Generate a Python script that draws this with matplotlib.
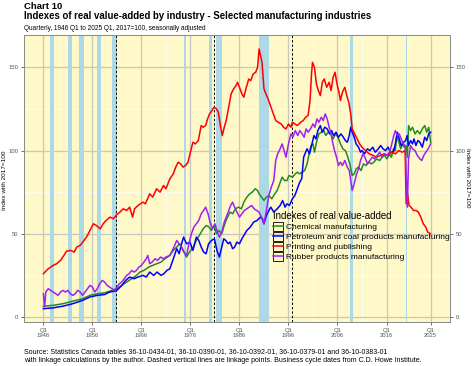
import matplotlib
matplotlib.use("Agg")
from matplotlib import pyplot as plt
from matplotlib.legend_handler import HandlerLine2D
from matplotlib.lines import Line2D
from matplotlib.patches import Rectangle
import numpy as np

plt.rcParams['font.family'] = ['Liberation Sans', 'DejaVu Sans']

# ---- data (fractional years) ----
red_t = [1946.0, 1947.0, 1948.0, 1948.7, 1949.5, 1950.2, 1950.7, 1951.5, 1952.3, 1952.8,
         1953.5, 1954.3, 1955.0, 1955.5, 1956.2, 1956.8, 1957.6, 1958.2, 1958.8, 1959.6,
         1960.3, 1961.0, 1961.6, 1962.3, 1963.0, 1963.6, 1964.2, 1964.6, 1965.3, 1966.3,
         1966.8, 1967.7, 1968.3, 1969.1, 1969.8, 1970.5, 1971.0, 1971.8, 1972.5, 1973.0,
         1973.5, 1974.0, 1974.5, 1975.0, 1975.5, 1976.0, 1976.5, 1977.0, 1977.6, 1978.2,
         1978.6, 1979.1, 1979.5, 1979.9, 1980.4, 1980.8, 1981.3, 1981.7, 1982.1, 1982.5,
         1982.9, 1983.3, 1983.8, 1984.3, 1984.8, 1985.3, 1985.6, 1986.0, 1986.5, 1986.9,
         1987.4, 1987.9, 1988.3, 1988.8, 1989.3, 1989.7, 1990.0, 1990.3, 1990.6, 1991.0,
         1991.4, 1991.7, 1992.2, 1992.8, 1993.4, 1993.9, 1994.5, 1995.0, 1995.5, 1996.0,
         1996.5, 1996.8, 1997.3, 1997.8, 1998.5, 1999.0, 1999.5, 2000.0, 2000.4, 2000.7,
         2000.9, 2001.3, 2001.7, 2002.1, 2002.5, 2002.9, 2003.3, 2003.8, 2004.3, 2004.7,
         2005.1, 2005.5, 2005.9, 2006.3, 2006.6, 2007.0, 2007.5, 2007.9, 2008.3, 2008.7,
         2009.0, 2009.5, 2010.0, 2010.5, 2011.0, 2011.7, 2012.5, 2013.3, 2013.9, 2014.7,
         2015.5, 2016.3, 2017.0, 2017.8, 2018.5, 2019.2, 2019.8, 2020.0, 2020.3, 2020.6,
         2021.0, 2021.5, 2022.0, 2022.5, 2023.0, 2023.5, 2024.0, 2024.4, 2025.0]
red_v = [26, 29, 31, 32, 34, 37, 39.5, 40, 39, 42,
         43, 46, 49, 52, 56, 55, 53, 56, 58, 60,
         59, 61.5, 63, 65, 64, 66, 60, 65, 67, 69,
         68, 74, 72, 77, 75, 79, 77, 83, 86, 90,
         93, 92, 90, 91, 93, 99, 105, 104, 106, 115,
         114, 115, 119, 122, 124, 126, 125, 123, 115, 109,
         114, 118, 126, 134, 137, 139, 141, 138, 134, 132,
         138, 143, 142, 146, 147, 150, 161, 157, 153, 137,
         134, 132, 128, 123, 118, 117, 116, 114, 113, 116,
         114, 117, 116, 115, 117, 118, 120, 121, 130, 146,
         153, 150, 140, 136, 133, 141, 143, 138, 141, 136,
         144, 147, 140, 135, 130, 135, 138, 133, 129, 122,
         113, 110, 107, 104, 102, 100, 98, 97, 96, 97,
         98, 97, 99, 98, 100, 99, 100, 68, 74, 67,
         66, 64, 64, 63, 60, 56, 54, 51, 50]

green_t = [1946.0, 1948.0, 1950.0, 1952.0, 1954.0, 1955.5, 1957.0, 1958.5, 1960.0, 1961.0,
           1962.0, 1963.0, 1964.0, 1965.0, 1965.7, 1966.5, 1967.5, 1968.3, 1969.1, 1970.0,
           1970.8, 1971.8, 1972.5, 1973.2, 1973.8, 1974.5, 1975.2, 1975.8, 1976.6, 1977.2,
           1977.8, 1978.6, 1979.2, 1979.8, 1980.3, 1980.8, 1981.3, 1981.8, 1982.4, 1982.9,
           1983.4, 1984.1, 1984.6, 1985.2, 1985.8, 1986.4, 1986.9, 1987.5, 1988.1, 1988.6,
           1989.2, 1989.7, 1990.0, 1990.5, 1991.0, 1991.5, 1992.0, 1992.6, 1993.2, 1993.7,
           1994.2, 1994.7, 1995.2, 1995.7, 1996.1, 1996.8, 1997.4, 1997.8, 1998.3, 1998.8,
           1999.3, 1999.8, 2000.2, 2000.6, 2001.0, 2001.3, 2001.8, 2002.2, 2002.7, 2003.2,
           2003.6, 2004.1, 2004.6, 2005.1, 2005.6, 2006.1, 2006.6, 2007.1, 2007.6, 2008.0,
           2008.5, 2009.0, 2009.4, 2009.8, 2010.3, 2010.8, 2011.3, 2011.8, 2012.4, 2012.9,
           2013.4, 2014.0, 2014.6, 2015.1, 2015.6, 2016.1, 2016.6, 2017.0, 2017.4, 2017.8,
           2018.1, 2018.5, 2018.9, 2019.3, 2019.6, 2020.0, 2020.25, 2020.5, 2020.9, 2021.3,
           2021.8, 2022.3, 2022.8, 2023.3, 2023.8, 2024.2, 2024.6, 2025.0]
green_v = [6.5, 7, 8, 9.5, 11, 13, 14, 14.5, 16, 17,
           19, 21, 23, 25, 27, 28, 30, 31, 32, 33,
           35, 37, 40, 42, 44, 40, 36, 39, 42, 46,
           49, 53, 55, 54, 52, 55, 50, 52, 50, 55,
           59, 63, 62, 65, 66, 65, 69, 72, 74, 75,
           77, 76, 74, 72, 70, 72, 73, 71, 74, 76,
           80, 84, 82, 82, 85, 84, 86, 87, 86, 87,
           88, 92, 98, 103, 104, 99, 106, 110, 111, 112,
           109, 111, 110, 107, 110, 108, 104, 101, 100, 97,
           92, 85, 86, 89, 90, 88, 92, 91, 93, 92,
           93, 95, 94, 96, 97, 95, 98, 96, 101, 100,
           109, 105, 101, 104, 102, 103, 96, 115, 112, 114,
           110, 112, 110, 113, 115, 111, 114, 105]

blue_t = [1946.0, 1948.0, 1950.0, 1952.0, 1954.0, 1955.5, 1957.0, 1958.5, 1959.5, 1960.5,
          1961.0, 1962.0, 1962.8, 1963.6, 1964.5, 1965.3, 1966.3, 1967.0, 1967.7, 1968.5,
          1969.2, 1970.0, 1970.6, 1971.2, 1971.8, 1972.4, 1973.2, 1973.7, 1974.2, 1974.6,
          1975.2, 1975.9, 1976.5, 1977.2, 1977.7, 1978.2, 1978.7, 1979.2, 1979.7, 1980.3,
          1980.9, 1981.4, 1981.9, 1982.4, 1982.8, 1983.2, 1983.7, 1984.1, 1984.6, 1985.0,
          1985.5, 1986.0, 1986.5, 1986.9, 1987.5, 1988.2, 1988.9, 1989.6, 1990.3, 1990.7,
          1991.0, 1991.5, 1992.0, 1992.4, 1993.0, 1993.7, 1994.3, 1994.8, 1995.3, 1995.7,
          1996.2, 1996.8, 1997.3, 1997.8, 1998.3, 1998.7, 1999.1, 1999.5, 1999.8, 2000.3,
          2000.8, 2001.2, 2001.6, 2002.0, 2002.5, 2002.9, 2003.4, 2003.9, 2004.4, 2004.8,
          2005.2, 2005.7, 2006.2, 2006.7, 2007.2, 2007.6, 2008.0, 2008.4, 2008.7, 2009.0,
          2009.3, 2009.8, 2010.3, 2010.7, 2011.0, 2011.5, 2012.1, 2012.6, 2013.2, 2013.7,
          2014.3, 2014.8, 2015.3, 2015.8, 2016.3, 2016.8, 2017.4, 2017.8, 2018.2, 2018.6,
          2019.0, 2019.5, 2019.9, 2020.2, 2020.5, 2020.9, 2021.3, 2021.6, 2022.0, 2022.4,
          2022.8, 2023.3, 2023.8, 2024.2, 2024.6, 2025.0]
blue_v = [5, 5.5, 6.5, 8, 10, 12, 13, 13.5, 15, 15.5,
          16, 19, 22, 24, 23, 24, 25, 24, 27, 25,
          27, 25, 26, 28, 29, 34, 41, 38, 44, 48,
          44, 45, 40, 48, 46, 42, 39, 38, 44, 46,
          47, 40, 36, 42, 47, 46, 44, 45, 41, 42,
          45, 44, 47, 49, 52, 54, 57, 58, 60, 59,
          56, 61, 64, 66, 63, 65, 67, 70, 66, 68,
          67, 71, 73, 77, 81, 83, 96, 99, 101, 98,
          104, 109, 107, 112, 115, 111, 114, 113, 110, 112,
          109, 111, 108, 110, 108, 106, 105, 109, 114, 111,
          109, 104, 102, 99, 100, 98, 101, 100, 102, 99,
          101, 103, 101, 100, 102, 99, 99, 104, 111, 107,
          103, 105, 106, 109, 103, 106, 104, 107, 103, 106,
          105, 102, 108, 106, 110, 111]

purple_t = [1946.0, 1946.25, 1946.5, 1947.0, 1947.5, 1948.0, 1948.5, 1949.0, 1949.5, 1950.0,
            1950.5, 1951.0, 1951.5, 1952.0, 1952.5, 1953.0, 1953.5, 1954.0, 1954.5, 1955.0,
            1955.5, 1956.0, 1956.5, 1957.0, 1957.5, 1958.0, 1958.5, 1959.0, 1959.5, 1960.0,
            1960.5, 1961.0, 1961.5, 1962.0, 1962.5, 1963.0, 1963.5, 1964.0, 1964.5, 1965.0,
            1965.5, 1966.0, 1966.5, 1967.0, 1967.3, 1967.7, 1968.2, 1968.8, 1969.3, 1969.9,
            1970.5, 1971.0, 1971.8, 1972.3, 1972.8, 1973.2, 1973.7, 1974.2, 1974.7, 1975.2,
            1975.7, 1976.2, 1976.7, 1977.2, 1977.7, 1978.2, 1978.7, 1979.1, 1979.6, 1980.0,
            1980.5, 1981.0, 1981.4, 1981.9, 1982.4, 1982.9, 1983.3, 1983.7, 1984.2, 1984.6,
            1985.0, 1985.5, 1986.0, 1986.5, 1987.0, 1987.5, 1988.0, 1988.5, 1989.0, 1989.5,
            1990.0, 1990.5, 1991.0, 1991.5, 1992.0, 1992.5, 1993.0, 1993.4, 1993.8, 1994.3,
            1994.7, 1995.1, 1995.5, 1996.0, 1996.5, 1996.9, 1997.4, 1997.9, 1998.3, 1998.8,
            1999.2, 1999.6, 2000.0, 2000.5, 2001.0, 2001.4, 2001.8, 2002.2, 2002.7, 2003.1,
            2003.5, 2003.9, 2004.3, 2004.7, 2005.0, 2005.4, 2005.8, 2006.2, 2006.6, 2007.0,
            2007.5, 2008.0, 2008.4, 2008.7, 2009.0, 2009.4, 2009.9, 2010.3, 2010.7, 2011.2,
            2011.6, 2012.1, 2012.6, 2013.1, 2013.6, 2014.1, 2014.6, 2015.1, 2015.6, 2016.1,
            2016.6, 2017.0, 2017.4, 2017.8, 2018.2, 2018.6, 2019.0, 2019.4, 2019.8, 2020.0,
            2020.25, 2020.5, 2020.9, 2021.3, 2021.8, 2022.3, 2022.8, 2023.2, 2023.6, 2024.0,
            2024.5, 2025.0]
purple_v = [14, 6, 15, 17, 16, 15, 14, 13, 15, 16,
            15, 16, 14, 13, 14, 16, 15, 13, 15, 17,
            19, 18, 15, 17, 20, 22, 21, 19, 18, 17,
            16, 18, 20, 21, 23, 25, 26, 28, 27, 28,
            30, 31, 33, 35, 37, 32, 33, 35, 34, 36,
            35, 36, 37, 40, 43, 46, 44, 42, 39, 37,
            44, 50, 54, 56, 58, 62, 64, 66, 62, 57,
            53, 56, 52, 48, 51, 57, 60, 63, 67, 69,
            66, 63, 60, 62, 64, 65, 66, 67, 65, 64,
            63, 60, 56, 64, 73, 78, 82, 94, 98, 101,
            104, 100, 96, 104, 110, 108, 112, 109, 112, 110,
            108, 113, 111, 113, 116, 114, 119, 117, 120, 118,
            122, 119, 114, 110, 105, 100, 96, 91, 93, 91,
            94, 90, 88, 82, 76, 80, 86, 89, 94, 98,
            96, 92, 94, 96, 95, 97, 99, 96, 98, 97,
            99, 103, 108, 112, 109, 110, 107, 104, 103, 88,
            66, 95, 103, 101, 100, 97, 95, 94, 97, 99,
            101, 104]

series_names = ["Chemical manufacturing",
                "Petroleum and coal products manufacturing",
                "Printing and publishing",
                "Rubber products manufacturing"]
series_colors = ["#228B22", "#0000FF", "#FF0000", "#A020F0"]

# business cycle (recession) periods, C.D. Howe
rec_start = [1947.45, 1951.1, 1953.3, 1956.9, 1960.1, 1974.7, 1979.8, 1981.25, 1990.0, 2008.5, 2019.95]
rec_end = [1948.1, 1951.8, 1954.3, 1957.8, 1961.0, 1975.1, 1980.4, 1982.5, 1992.0, 2009.1, 2020.2]
# linkage points
link_dates = [1960.75, 1980.75, 1996.75]

tick_years = [1946, 1956, 1966, 1976, 1986, 1996, 2006, 2016, 2025]
tick_labels = ["Q1\n%d" % y for y in tick_years]
minor_years = [1951, 1961, 1971, 1981, 1991, 2001, 2011, 2020.5]
y_ticks = [0, 50, 100, 150]
y_minor = [25, 75, 125]


class BoxedLine(HandlerLine2D):
    # legend key with a black box around the line, like ggplot
    def create_artists(self, legend, orig_handle, xdescent, ydescent, width, height, fontsize, trans):
        artists = super().create_artists(legend, orig_handle, xdescent, ydescent,
                                         width, height, fontsize, trans)
        box = Rectangle((-xdescent, -ydescent), width, height, fill=False,
                        edgecolor="black", lw=0.6, transform=trans)
        return [box] + list(artists)


fig = plt.figure(figsize=(4.74, 3.66), dpi=100)
ax = fig.add_axes([24 / 474, 1 - 322 / 366, 426 / 474, 287 / 366])
ax.set_facecolor("#FFF8C8")

ax.set_xlim(1942.05, 2028.95)
ax.set_ylim(-3.0, 169.4)

# grid
for y in y_minor:
    ax.axhline(y, color="white", lw=0.5, zorder=0.5)
for x in minor_years:
    ax.axvline(x, color="white", lw=0.5, zorder=0.5)
for y in y_ticks:
    ax.axhline(y, color="#c8c8c0", lw=0.9, zorder=0.6)
for x in tick_years:
    ax.axvline(x, color="#c8c8c0", lw=0.9, zorder=0.6)

for s, e in zip(rec_start, rec_end):
    ax.axvspan(s, e, color="#ADD8E6", lw=0, zorder=1)
for d in link_dates:
    ax.axvline(d, color="black", lw=0.7, ls=(0, (2.5, 2)), zorder=1.5)

data = [(green_t, green_v), (blue_t, blue_v), (red_t, red_v), (purple_t, purple_v)]
for (t, v), name, col in zip(data, series_names, series_colors):
    ax.plot(t, v, color=col, lw=1.1, label=name, zorder=2)

ax.set_xticks(tick_years)
ax.set_xticklabels(tick_labels)
ax.set_yticks(y_ticks)
ax.tick_params(axis="both", colors="#555555", labelsize=4.2, length=2.5, width=0.6, pad=1.5)
ax.tick_params(axis="y", right=True, labelright=True)
for sp in ax.spines.values():
    sp.set_color("#888888")
    sp.set_linewidth(0.7)

# axis titles on both sides
fig.text(5 / 474, 1 - 180 / 366, "Index with 2017=100", fontsize=4.6, rotation=90,
         ha="center", va="center")
fig.text(467 / 474, 1 - 178 / 366, "Index with 2017=100", fontsize=4.6, rotation=-90,
         ha="center", va="center")

handles = [Line2D([], [], color=c, lw=1.1) for c in series_colors]
leg = ax.legend(handles, series_names, title="Indexes of real value-added",
                loc="upper left", bbox_to_anchor=(0.58, 0.392), frameon=False,
                fontsize=6.0, title_fontsize=6.9, handlelength=1.2, handleheight=1.2,
                handletextpad=0.4, labelspacing=0.12, borderpad=0.2, borderaxespad=0,
                alignment="left", handler_map={Line2D: BoxedLine()})

fig.text(24 / 474, 1 - 6.5 / 366, "Chart 10", fontsize=6.8, fontweight="bold", va="center")
fig.text(24 / 474, 1 - 16 / 366,
         "Indexes of real value-added by industry - Selected manufacturing industries",
         fontsize=6.9, fontweight="bold", va="center")
fig.text(24 / 474, 1 - 28 / 366,
         "Quarterly, 1946 Q1 to 2025 Q1, 2017=100, seasonally adjusted",
         fontsize=4.7, va="center")
fig.text(24 / 474, 1 - 356 / 366,
         "Source: Statistics Canada tables 36-10-0434-01, 36-10-0390-01, 36-10-0392-01, "
         "36-10-0379-01 and 36-10-0383-01\n"
         "with linkage calculations by the author. Dashed vertical lines are linkage points. "
         "Business cycle dates from C.D. Howe Institute.",
         fontsize=5.05, va="center", linespacing=1.3)

fig.savefig("out.png", dpi=100)
